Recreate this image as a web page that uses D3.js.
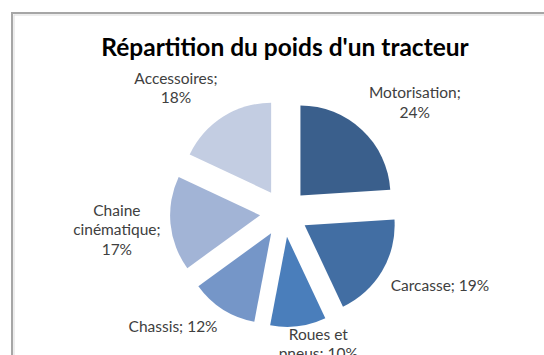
<!DOCTYPE html>
<html>
<head>
<meta charset="utf-8">
<script src="https://cdn.jsdelivr.net/npm/d3@7"></script>
<style>
  html, body { margin: 0; padding: 0; background: #fff; }
  svg { display: block; }
</style>
</head>
<body>
<svg id="chart" width="544" height="355"></svg>
<script>
// Composants du tracteur et part de chaque composant dans le poids total (%)
const categories = ["Motorisation", "Carcasse", "Roues et pneus", "Chassis", "Chaine cinématique", "Accessoires"];
const values = [24, 19, 10, 12, 17, 18];
// Libellés affichés, découpés en lignes
const labelLines = [
  ["Motorisation;", "24%"],
  ["Carcasse; 19%"],
  ["Roues et", "pneus; 10%"],
  ["Chassis; 12%"],
  ["Chaine", "cinématique;", "17%"],
  ["Accessoires;", "18%"]
];
const colors = ["#3a5f8c", "#426ea3", "#4a7ebb", "#7596c8", "#a2b4d6", "#c3cde2"];
const title = "Répartition du poids d'un tracteur";

const W = 544, H = 355;
const svg = d3.select("#chart");

// Cadre de la zone de graphique
svg.append("rect")
  .attr("x", 12).attr("y", 13)
  .attr("width", W + 20).attr("height", H + 20)
  .attr("fill", "none").attr("stroke", "#a6a6a6").attr("stroke-width", 2);
svg.append("rect")
  .attr("x", 14).attr("y", 15)
  .attr("width", W + 20).attr("height", H + 20)
  .attr("fill", "none").attr("stroke", "#dcdcdc").attr("stroke-width", 1);

svg.append("text")
  .attr("x", 285).attr("y", 56)
  .attr("text-anchor", "middle")
  .attr("font-family", "Lato, 'Open Sans', sans-serif")
  .attr("font-weight", "bold")
  .attr("font-size", 24.5)
  .attr("fill", "#000")
  .text(title);

const cx = 284, cy = 213;
const radius = 90;
const explode = 24;
// limite basse de la zone de tracé (les étiquettes ne la dépassent pas)
const plotBottom = 364;

const pie = d3.pie().sort(null).value(d => d)(values);
const arc = d3.arc().innerRadius(0).outerRadius(radius);

const g = svg.append("g").attr("transform", `translate(${cx},${cy})`);

pie.forEach((p, i) => {
  const mid = (p.startAngle + p.endAngle) / 2;
  const dx = Math.sin(mid) * explode, dy = -Math.cos(mid) * explode;
  g.append("path")
    .attr("d", arc(p))
    .attr("transform", `translate(${dx},${dy})`)
    .attr("fill", colors[i]);
});

// Étiquettes placées à l'extérieur de chaque part
const fontSize = 15.5, lineH = 19.5;
const labelG = g.append("g")
  .attr("font-family", "Lato, 'Open Sans', sans-serif")
  .attr("font-size", fontSize)
  .attr("fill", "#404040");

pie.forEach((p, i) => {
  const mid = (p.startAngle + p.endAngle) / 2;
  const sx = Math.sin(mid), sy = -Math.cos(mid);
  const rr = radius + explode + 10;
  const ax = sx * rr, ay = sy * rr;
  const t = labelG.append("text").attr("text-anchor", "middle");
  labelLines[i].forEach((ln, k) => {
    t.append("tspan").attr("x", 0).attr("dy", k === 0 ? 0 : lineH).text(ln);
  });
  const w = d3.max(t.selectAll("tspan").nodes(), n => n.getComputedTextLength());
  const h = labelLines[i].length * lineH;
  const clamp = v => Math.max(-1, Math.min(1, v));
  let bx = ax + clamp(2 * sx) * w / 2;
  let by = ay + clamp(2 * sy) * h / 2;
  const maxCy = plotBottom - cy - h / 2;
  if (by > maxCy) {
    // bloc repoussé vers le haut : on le décale latéralement pour dégager la part
    bx += (by - maxCy) * 0.8;
    by = maxCy;
  }
  // centre du bloc de texte -> ligne de base de la première ligne
  const firstBase = by - h / 2 + lineH * 0.75;
  t.attr("transform", `translate(${bx},${firstBase})`);
});
</script>
</body>
</html>
